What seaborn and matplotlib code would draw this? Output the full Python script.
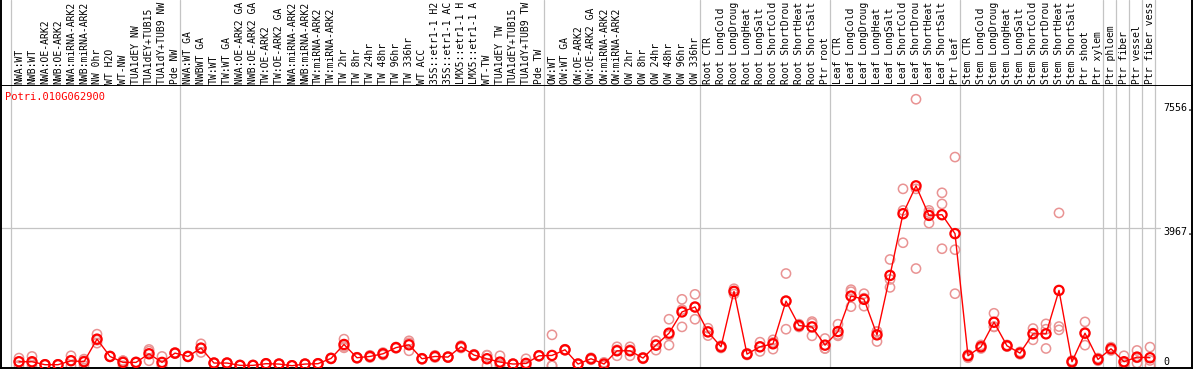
import numpy as np
import pandas as pd
import matplotlib
matplotlib.use("Agg")
import matplotlib.pyplot as plt
import matplotlib.transforms as mtransforms
import seaborn as sns

# ---------------- data ----------------
gene = "Potri.010G062900"

labels = [
    "NWA:WT", "NWB:WT", "NWA:OE-ARK2", "NWB:OE-ARK2", "NWA:miRNA-ARK2", "NWB:miRNA-ARK2",
    "NW 0hr", "WT H2O", "WT-NW", "TUA1dEY NW", "TUA1dEY+TUB15", "TUA1dY+TUB9 NW", "Pde NW",
    "NWA:WT GA", "NWBWT GA", "TW:WT", "TW:WT GA", "NWA:OE-ARK2 GA", "NWB:OE-ARK2 GA",
    "TW:OE-ARK2", "TW:OE-ARK2 GA", "NWA:miRNA-ARK2", "NWB:miRNA-ARK2", "TW:miRNA-ARK2",
    "TW:miRNA-ARK2", "TW 2hr", "TW 8hr", "TW 24hr", "TW 48hr", "TW 96hr", "TW 336hr",
    "WT ACC", "35S::etr1-1 H2", "35S::etr1-1 AC", "LMX5::etr1-1 H", "LMX5::etr1-1 A",
    "WT-TW", "TUA1dEY TW", "TUA1dEY+TUB15", "TUA1dY+TUB9 TW", "Pde TW",
    "OW:WT", "OW:WT GA", "OW:OE-ARK2", "OW:OE-ARK2 GA", "OW:miRNA-ARK2", "OW:miRNA-ARK2",
    "OW 2hr", "OW 8hr", "OW 24hr", "OW 48hr", "OW 96hr", "OW 336hr",
    "Root CTR", "Root LongCold", "Root LongDroug", "Root LongHeat", "Root LongSalt",
    "Root ShortCold", "Root ShortDrou", "Root ShortHeat", "Root ShortSalt", "Ptr root",
    "Leaf CTR", "Leaf LongCold", "Leaf LongDroug", "Leaf LongHeat", "Leaf LongSalt",
    "Leaf ShortCold", "Leaf ShortDrou", "Leaf ShortHeat", "Leaf ShortSalt", "Ptr leaf",
    "Stem CTR", "Stem LongCold", "Stem LongDroug", "Stem LongHeat", "Stem LongSalt",
    "Stem ShortCold", "Stem ShortDrou", "Stem ShortHeat", "Stem ShortSalt", "Ptr shoot",
    "Ptr xylem", "Ptr phloem", "Ptr fiber", "Ptr vessel", "Ptr fiber vess",
]

# index of the first sample of each group (group separators)
group_starts = [0, 13, 41, 53, 63, 73, 84, 85, 86, 87, 88]

mean_values = [
    115, 115, 29, 29, 144, 115, 767, 268, 96, 96, 345, 96, 364,
    268, 508, 77, 77, 10, 10, 58, 48, 0, 48, 58, 211, 613, 230, 268, 345, 522,
    604, 201, 268, 249, 546, 307, 201, 105, 48, 67, 287,
    297, 460, 48, 201, 48, 431, 431, 220, 594, 939, 1553, 1696,
    977, 546, 2147, 335, 546, 633, 1865, 1159, 1121, 594,
    987, 2012, 1917, 891, 2607, 4389, 5194, 4341, 4360, 3814,
    287, 546, 1255, 575, 364, 920, 920, 2175, 115, 939, 182,
    489, 115, 249, 230,
]

rep_a = [
    221, 268, 40, 40, 287, 144, 911, 280, 144, 110, 420, 268, 380,
    280, 632, 90, 90, 20, 20, 70, 60, 10, 60, 70, 225, 767, 245, 300, 380, 540,
    719, 215, 300, 265, 580, 330, 307, 287, 60, 200, 300,
    891, 475, 60, 230, 48, 546, 546, 240, 719, 1342, 1917, 2061,
    1083, 580, 2223, 360, 680, 747, 2662, 1200, 1274, 785,
    1198, 2195, 2080, 987, 3068, 5107, 7695, 4485, 4993, 6025,
    320, 600, 1514, 600, 400, 1073, 1208, 4412, 150, 1265, 220,
    537, 287, 441, 537,
]
rep_b = [
    115, 77, 29, 29, 144, 190, 738, 268, 144, 96, 470, 20, 364,
    268, 508, 77, 77, 10, 10, 58, 48, 0, 48, 58, 211, 556, 230, 268, 345, 522,
    662, 201, 268, 249, 546, 307, 297, 29, 48, 0, 287,
    0, 460, 48, 201, 96, 460, 460, 220, 613, 881, 1620, 1686,
    977, 546, 2147, 335, 546, 672, 1880, 1159, 1226, 498,
    900, 2137, 1950, 987, 2492, 4485, 5107, 4420, 4671, 3350,
    287, 546, 1131, 575, 364, 940, 1054, 1131, 115, 958, 182,
    489, 77, 230, 153,
]
rep_c = [
    10, 0, 18, 18, 0, 10, 652, 256, 0, 82, 144, 0, 348,
    256, 383, 64, 64, 0, 0, 46, 36, 0, 36, 46, 197, 517, 215, 236, 310, 504,
    431, 187, 236, 233, 512, 284, 0, 0, 36, 0, 274,
    0, 445, 36, 172, 0, 287, 287, 200, 450, 594, 1121, 1342,
    870, 512, 2070, 310, 412, 479, 1054, 1118, 863, 498,
    863, 1705, 1720, 699, 2262, 3551, 2806, 4118, 3378, 2080,
    230, 498, 1120, 550, 330, 748, 498, 1035, 80, 594, 144,
    441, 0, 77, 0,
]

tick_values = [7556, 3967, 0]
tick_texts = ["7556.", "3967.", "0"]
tick_label_offsets = [-114, -106, 107]  # value shift of printed label relative to its level

# ---------------- figure ----------------
W, H = 1194, 370
sns.set_style("white")
plt.rcParams["font.family"] = ["DejaVu Sans Mono", "DejaVu Sans"]

fig = plt.figure(figsize=(W / 100, H / 100), dpi=100)

def px_axes(x0, y0, x1, y1):
    return fig.add_axes([x0 / W, 1 - y1 / H, (x1 - x0) / W, (y1 - y0) / H])

ax = px_axes(1, 85, 1192, 368)
ax_top = px_axes(1, 0, 1192, 85)

n = len(labels)
pos = np.arange(n)
xlim = ((1 - 19) / 13, (1192 - 19) / 13)
ylim = (-66, 8106)

df_mean = pd.DataFrame({"pos": pos, "value": mean_values, "sample": labels})
df_rep = pd.DataFrame({
    "pos": np.concatenate([pos, pos, pos]),
    "value": np.concatenate([rep_a, rep_b, rep_c]),
})

red = "#ff0000"
pink = "#e99393"
grid_gray = "#c4c4c4"

# group separators (both panels)
for a in (ax, ax_top):
    for g in group_starts:
        a.axvline(g - 0.62, color=grid_gray, lw=0.9, zorder=0)

# horizontal grid at 3967
ax.plot([0, 0.973], [3967, 3967], transform=mtransforms.blended_transform_factory(ax.transAxes, ax.transData),
        color=grid_gray, lw=0.9, zorder=0)

sns.scatterplot(data=df_rep, x="pos", y="value", ax=ax, marker="o", s=44,
                facecolors="none", edgecolor=pink, linewidth=1.1, zorder=2, legend=False)
sns.lineplot(data=df_mean, x="pos", y="value", ax=ax, color=red, lw=1.0, zorder=3,
             estimator=None, sort=False, legend=False)
sns.scatterplot(data=df_mean, x="pos", y="value", ax=ax, marker="o", s=44,
                facecolors="none", edgecolor=red, linewidth=1.6, zorder=4, legend=False)

ax.set_xlim(*xlim)
ax.set_ylim(*ylim)
ax.set_xlabel("")
ax.set_ylabel("")
ax.set_xticks([])
ax.set_yticks([])
for s in ax.spines.values():
    s.set_color("black")
    s.set_linewidth(1.4)

# y value labels on the right
tr = mtransforms.blended_transform_factory(ax.transAxes, ax.transData)
for v, t, off in zip(tick_values, tick_texts, tick_label_offsets):
    ax.text((1163 - 1) / 1191, v + off, t, transform=tr, ha="left", va="center",
            fontsize=7.2, color="black")

# gene name
ax.text(4 / 1191, 1 - (97 - 85) / 283, gene, transform=ax.transAxes, ha="left", va="center",
        fontsize=7.5, color=red)

# top label panel
ax_top.set_xlim(*xlim)
ax_top.set_ylim(0, 1)
ax_top.set_xticks([])
ax_top.set_yticks([])
for k, s in ax_top.spines.items():
    s.set_color("black")
    s.set_linewidth(1.4)
    if k in ("top", "bottom"):
        s.set_visible(False)
trt = mtransforms.blended_transform_factory(ax_top.transData, ax_top.transAxes)
for i, lab in enumerate(labels):
    ax_top.text(i, (85 - 83.5) / 85, lab, transform=trt, rotation=90, ha="center", va="bottom",
                fontsize=7.0, color="black")

fig.savefig("out.png", dpi=100)
